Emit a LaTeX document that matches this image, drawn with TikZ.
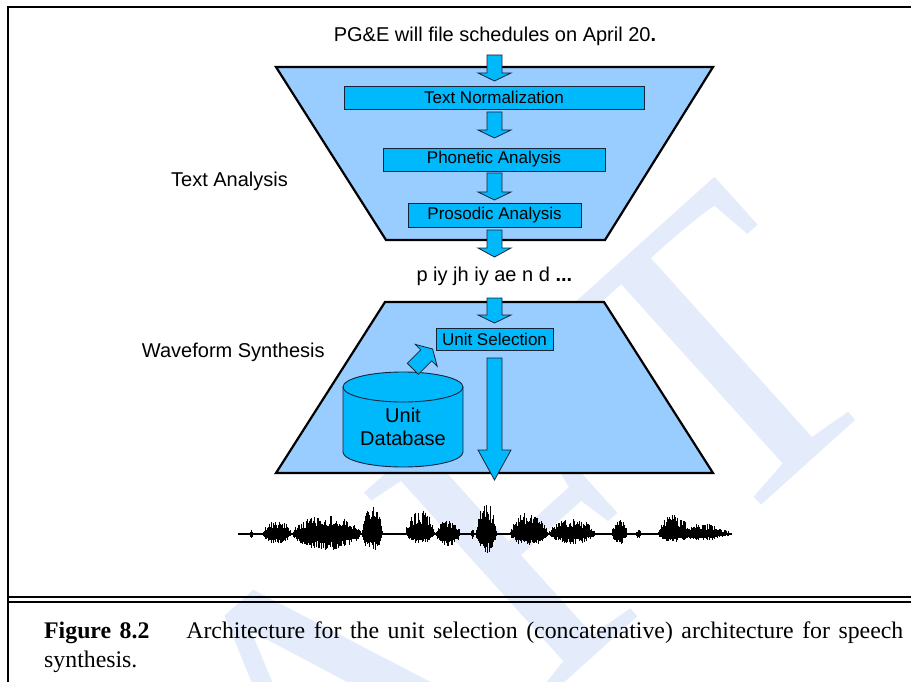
\documentclass[tikz,border=0pt]{standalone}
\usepackage{fontspec}
\setmainfont{Liberation Serif}
\newfontfamily\arialf{Liberation Sans}
\usetikzlibrary{calc}
\definecolor{trapfill}{RGB}{153,204,255}
\definecolor{boxfill}{RGB}{0,184,252}
\definecolor{wmark}{RGB}{228,236,251}
\definecolor{edgec}{RGB}{25,35,55}
\tikzset{
  trap/.style={fill=trapfill, draw=black, line width=2.2pt, line join=miter},
  procbox/.style={fill=boxfill, draw=edgec, line width=0.9pt, inner sep=0pt,
    font=\arialf\fontsize{17}{20}\selectfont},
  arr/.style={fill=boxfill, draw=edgec, line width=0.8pt, line join=miter},
  lbl/.style={font=\arialf\fontsize{20}{23}\selectfont, inner sep=0pt},
  wm/.style={font=\fontsize{420}{420}\selectfont, text=wmark, inner sep=0pt},
  wave/.style={line width=0.7pt, black},
  capt/.style={font=\fontsize{23.8}{29}\selectfont, inner sep=0pt}
}
% block arrow: start point, tip point, head length (with unit)
\newcommand\blockarrow[3]{%
  \draw[arr] let \p1=#1, \p2=#2 in
    (\x1-7.5pt,\y1) -- (\x1+7.5pt,\y1) -- (\x1+7.5pt,\y2+#3) -- (\x1+16.5pt,\y2+#3)
    -- (\x1,\y2) -- (\x1-16.5pt,\y2+#3) -- (\x1-7.5pt,\y2+#3) -- cycle;}
% waveform segment: x1, x2, up amplitude, down amplitude
\newcommand\wseg[4]{%
  \foreach \xx in {#1,#1.5,...,#2}{%
    \pgfmathsetmacro\wt{(\xx-#1)/(#2-#1+0.001)}%
    \pgfmathsetmacro\wenv{sqrt(sin(180*\wt)+0.02)}%
    \pgfmathsetmacro\wra{rnd}%
    \pgfmathsetmacro\wrb{rnd}%
    \pgfmathsetmacro\whu{#3*\wenv*(0.4+0.6*\wra*\wra)}%
    \pgfmathsetmacro\whd{#4*\wenv*(0.45+0.55*\wrb*\wrb)}%
    \draw[wave] (\xx,534-\whu) -- (\xx,534+\whd);
  }}
\begin{document}
\begin{tikzpicture}[x=1pt,y=-1pt]
\useasboundingbox (0,0) rectangle (911,682);
\fill[white] (0,0) rectangle (911,682);
% watermark
\begin{scope}
  \clip (0,0) rectangle (911,682);
  \node[wm, rotate=42] (wmk) at (300,735) {DRAFT};
\end{scope}
% frame
\draw[line width=2.5pt] (8,682) -- (8,7) -- (911,7);
\draw[line width=2.5pt] (8,597) -- (911,597);
\draw[line width=1.5pt] (8,602) -- (911,602);

% trapezoids
\draw[trap] (276,67) -- (713,67) -- (605,240) -- (386,240) -- cycle;
\draw[trap] (385,302) -- (604,302) -- (713,473) -- (276,473) -- cycle;

% labels
\node[lbl, anchor=base] (sent) at (495,42) {PG\&E will file schedules on April 20\textbf{.}};
\node[lbl, anchor=base] (ta) at (229.5,187) {Text Analysis};
\node[lbl, anchor=base] (ws) at (233.3,357) {Waveform Synthesis};
\node[lbl, anchor=base] (phones) at (494.4,281) {p iy jh iy ae n d \textbf{...}};

% process boxes
\node[procbox, minimum width=300pt, minimum height=23pt] (tn) at (494,97.5) {Text Normalization};
\node[procbox, minimum width=222pt, minimum height=23pt] (ph) at (494,159.5) {Phonetic Analysis};
\node[procbox, minimum width=173pt, minimum height=24pt] (pr) at (494.5,215) {Prosodic Analysis};
\node[procbox, minimum width=117pt, minimum height=22pt] (us) at (494.5,339) {Unit Selection};

% block arrows
\coordinate (a1s) at (494.5,55);
\coordinate (a1e) at (494.5,81);
\coordinate (a2s) at (494.5,112);
\coordinate (a2e) at (494.5,138);
\coordinate (a3s) at (494.5,173);
\coordinate (a3e) at (494.5,200);
\coordinate (a4s) at (494.5,230);
\coordinate (a4e) at (494.5,257);
\coordinate (a5s) at (494.5,298);
\coordinate (a5e) at (494.5,323);
\coordinate (a6s) at (494.5,358);
\coordinate (a6e) at (494.5,480);
\blockarrow{(a1s)}{(a1e)}{8pt}
\blockarrow{(a2s)}{(a2e)}{8pt}
\blockarrow{(a3s)}{(a3e)}{8pt}
\blockarrow{(a4s)}{(a4e)}{9pt}
\blockarrow{(a5s)}{(a5e)}{8pt}
\blockarrow{(a6s)}{(a6e)}{30pt}

% database cylinder
\draw[arr, line width=0.9pt] (343,387) -- (343,452)
   arc[start angle=180, end angle=0, x radius=60, y radius=15] -- (463,387)
   arc[start angle=0, end angle=-180, x radius=60, y radius=15] -- cycle;
\draw[edgec, line width=0.9pt] (343,387) arc[start angle=180, end angle=0, x radius=60, y radius=15];
\node[font=\arialf\fontsize{20}{23}\selectfont, align=center, inner sep=0pt] (db) at (403,427) {Unit\\Database};

% diagonal arrow from database to unit selection
\begin{scope}[shift={(412.8,368.8)}, rotate=-45]
  \draw[arr] (-7.8,0) -- (7.8,0) -- (7.8,-19) -- (15.5,-19) -- (0,-28) -- (-15.5,-19) -- (-7.8,-19) -- cycle;
\end{scope}

% waveform
\pgfmathsetseed{12}
\draw[line width=1.2pt] (238,534) -- (732,534);
\wseg{250}{253}{5}{4}
\wseg{263}{291}{14}{10}
\wseg{293}{360}{19}{16}
\wseg{362}{382}{28}{17}
\wseg{406}{434}{24}{10}
\wseg{436}{460}{14}{12}
\wseg{471}{474}{8}{6}
\wseg{476}{496}{32}{19}
\wseg{510}{547}{21}{12}
\wseg{549}{595}{15}{10}
\wseg{612}{627}{15}{10}
\wseg{636}{641}{6}{5}
\wseg{658}{690}{19}{9}
\wseg{684}{722}{11}{7}
\wseg{716}{731}{4}{3}

% caption
\node[capt, anchor=base west] (cap1) at (44,638)
  {\makebox[859pt][s]{\textbf{Figure 8.2}\hspace{1.55em}Architecture for the unit selection (concatenative) architecture for speech}};
\node[capt, anchor=base west] (cap2) at (44,667) {synthesis.};
\end{tikzpicture}
\end{document}
